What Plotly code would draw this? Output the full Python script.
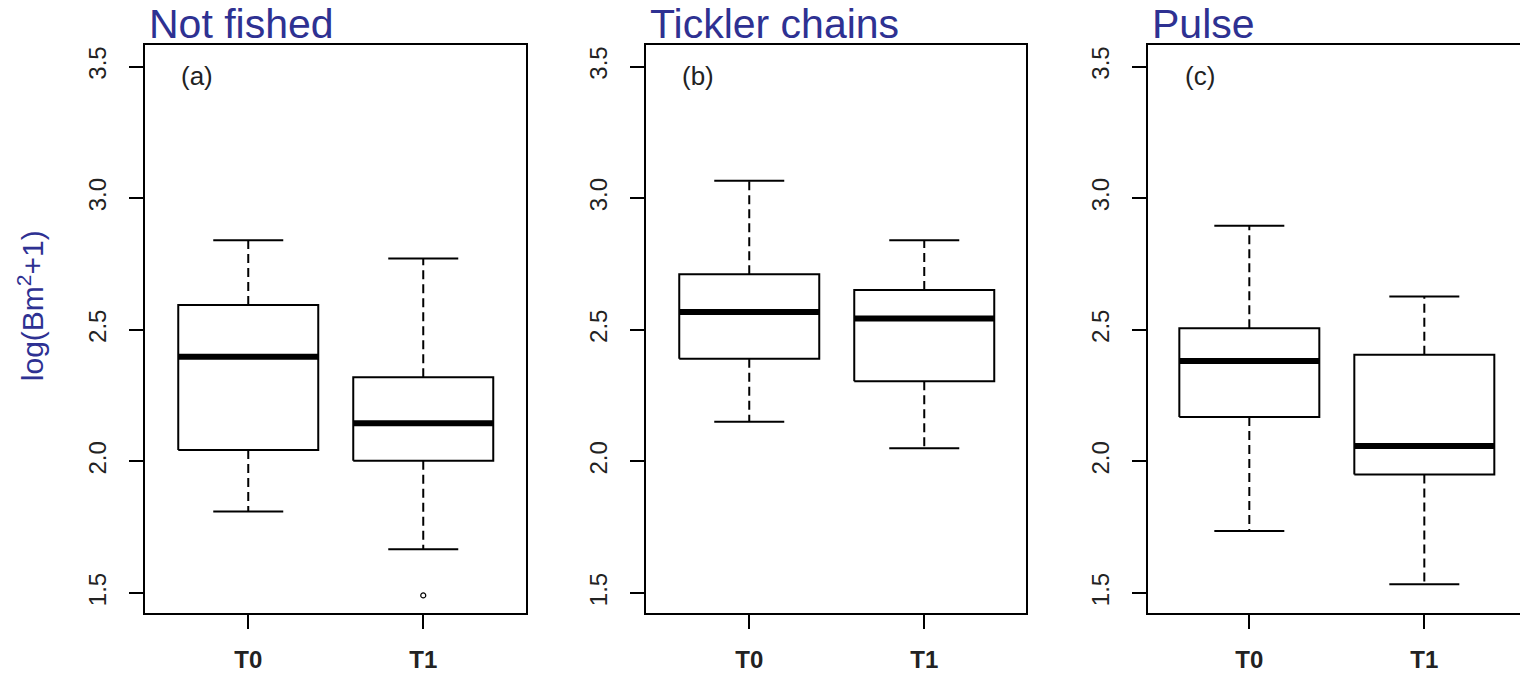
import plotly.graph_objects as go

# ---- data ----
panels = ["Not fished", "Tickler chains", "Pulse"]
panel_tags = ["(a)", "(b)", "(c)"]
categories = ["T0", "T1"]
lower_whisker = [[1.81, 1.666], [2.151, 2.050], [1.736, 1.533]]
q1 = [[2.043, 2.003], [2.390, 2.305], [2.169, 1.950]]
median = [[2.398, 2.145], [2.568, 2.543], [2.382, 2.059]]
q3 = [[2.594, 2.320], [2.711, 2.651], [2.506, 2.405]]
upper_whisker = [[2.840, 2.771], [3.066, 2.840], [2.895, 2.627]]
outliers = [[[], [1.491]], [[], []], [[], []]]
y_ticks = [1.5, 2.0, 2.5, 3.0, 3.5]
y_tick_text = ["1.5", "2.0", "2.5", "3.0", "3.5"]

W, H = 1520, 673
BLUE = "#2E3192"
FONT = "Liberation Sans, Arial, sans-serif"

fig = go.Figure()

box_half = 0.4
cap_half = 0.2
pos = [1, 2]

for p in range(3):
    xa = "x" if p == 0 else f"x{p+1}"
    ya = "y" if p == 0 else f"y{p+1}"
    for i, xc in enumerate(pos):
        lo, a, m, b, hi = (lower_whisker[p][i], q1[p][i], median[p][i],
                           q3[p][i], upper_whisker[p][i])
        # whiskers (dashed)
        fig.add_trace(go.Scatter(
            x=[xc, xc, None, xc, xc], y=[b, hi, None, a, lo],
            mode="lines", line=dict(color="black", width=2, dash="9px,5px"),
            xaxis=xa, yaxis=ya, hoverinfo="skip", showlegend=False))
        # caps
        fig.add_trace(go.Scatter(
            x=[xc - cap_half, xc + cap_half, None, xc - cap_half, xc + cap_half],
            y=[hi, hi, None, lo, lo],
            mode="lines", line=dict(color="black", width=2),
            xaxis=xa, yaxis=ya, hoverinfo="skip", showlegend=False))
        # box
        fig.add_trace(go.Scatter(
            x=[xc - box_half, xc + box_half, xc + box_half, xc - box_half, xc - box_half],
            y=[a, a, b, b, a],
            mode="lines", fill="toself", fillcolor="white",
            line=dict(color="black", width=2),
            xaxis=xa, yaxis=ya, hoverinfo="skip", showlegend=False))
        # median
        fig.add_trace(go.Scatter(
            x=[xc - box_half, xc + box_half], y=[m, m],
            mode="lines", line=dict(color="black", width=6),
            xaxis=xa, yaxis=ya, hoverinfo="skip", showlegend=False))
        # outliers
        if outliers[p][i]:
            fig.add_trace(go.Scatter(
                x=[xc] * len(outliers[p][i]), y=outliers[p][i],
                mode="markers",
                marker=dict(symbol="circle-open", size=5, color="black",
                            line=dict(width=1.2, color="black")),
                xaxis=xa, yaxis=ya, hoverinfo="skip", showlegend=False))

# panel geometry in pixels
px_left = [145, 646, 1148]
px_right = [526, 1026, 1520]
x_start = [0.41, 0.41, 0.421]
px_per_unit = 175.0
plot_top, plot_bottom = 45, 617

layout = dict(
    width=W, height=H,
    margin=dict(l=0, r=0, t=0, b=0),
    paper_bgcolor="white", plot_bgcolor="white",
    showlegend=False,
    font=dict(family=FONT, color="#222"),
)

annotations = []
for p in range(3):
    xk = "xaxis" if p == 0 else f"xaxis{p+1}"
    yk = "yaxis" if p == 0 else f"yaxis{p+1}"
    ya = "y" if p == 0 else f"y{p+1}"
    width_px = px_right[p] - px_left[p]
    layout[xk] = dict(
        domain=[px_left[p] / W, px_right[p] / W],
        range=[x_start[p], x_start[p] + width_px / px_per_unit],
        anchor=ya,
        tickmode="array", tickvals=pos, ticktext=categories,
        ticks="outside", ticklen=14, tickwidth=2, tickcolor="black",
        showline=True, linecolor="black", linewidth=2, mirror=True,
        showgrid=False, zeroline=False,
        tickfont=dict(size=24, family=FONT, color="#222", weight="bold"),
        ticklabelstandoff=10,
        fixedrange=True,
    )
    layout[yk] = dict(
        domain=[(H - plot_bottom) / H, (H - plot_top) / H],
        range=[1.423, 3.583],
        anchor="x" if p == 0 else f"x{p+1}",
        tickmode="array", tickvals=y_ticks, ticktext=y_tick_text,
        ticks="outside", ticklen=14, tickwidth=2, tickcolor="black",
        tickangle=-90,
        showline=True, linecolor="black", linewidth=2, mirror=(p < 2),
        showgrid=False, zeroline=False,
        tickfont=dict(size=24, family=FONT, color="#222"),
        ticklabelstandoff=13,
        fixedrange=True,
    )
    # panel title
    annotations.append(dict(
        text=panels[p], xref="paper", yref="paper",
        x=(px_left[p] + 3) / W, y=(H - 48) / H,
        xanchor="left", yanchor="bottom", showarrow=False,
        font=dict(size=41, family=FONT, color=BLUE), borderpad=0,
    ))
    # (a)/(b)/(c)
    annotations.append(dict(
        text=panel_tags[p], xref="paper", yref="paper",
        x=(px_left[p] + 52) / W, y=(H - 76) / H,
        xanchor="center", yanchor="middle", showarrow=False,
        font=dict(size=26, family=FONT, color="#222"),
    ))

annotations.append(dict(
    text="log(Bm<sup>2</sup>+1)", xref="paper", yref="paper",
    x=31 / W, y=(H - 308) / H, textangle=-90,
    xanchor="center", yanchor="middle", showarrow=False,
    font=dict(size=30, family=FONT, color=BLUE),
))
layout["annotations"] = annotations

fig.update_layout(**layout)
fig.write_html("out.html")
